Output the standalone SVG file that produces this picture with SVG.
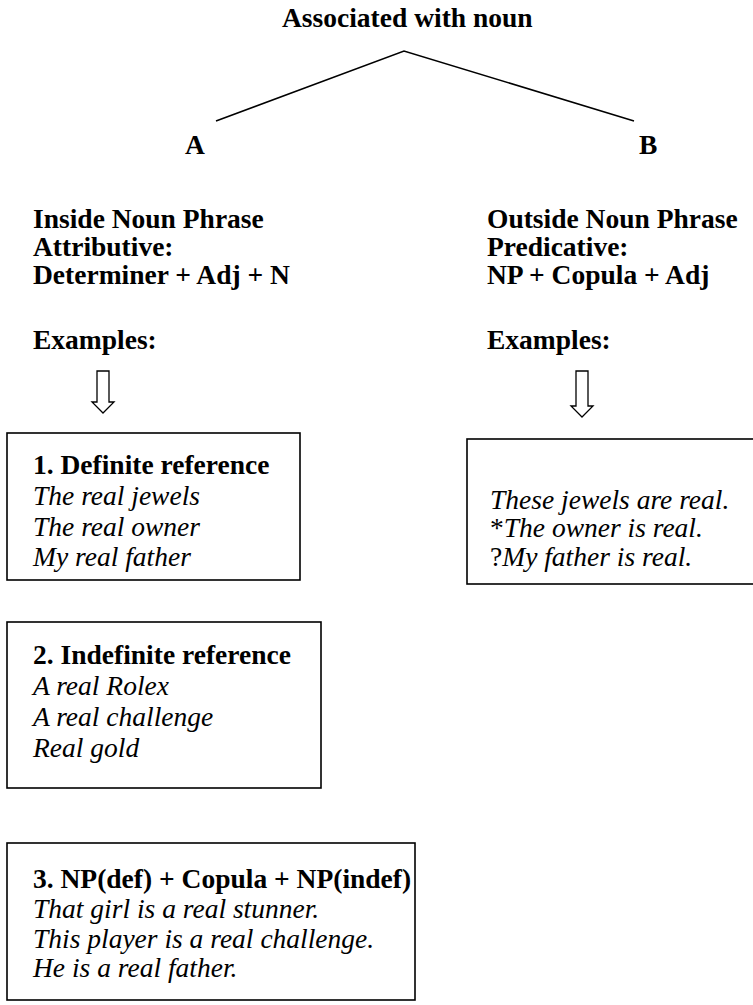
<svg xmlns="http://www.w3.org/2000/svg" width="753" height="1005" viewBox="0 0 753 1005">
<style>
text{font-family:"Liberation Serif","Times New Roman",serif;font-size:27.5px;fill:#000}
.b{font-weight:bold}
.i{font-style:italic}
.box{fill:#fff;stroke:#000;stroke-width:1.6}
.ln{fill:none;stroke:#000;stroke-width:1.6}
.arr{fill:#fff;stroke:#000;stroke-width:1.3;stroke-linejoin:miter}
</style>
<rect width="753" height="1005" fill="#fff"/>
<g id="connectors">
<polyline class="ln" points="216,121 404,51 634,121"/>
<path class="arr" d="M97,371 H109 V402 H114 L103,413 L92,402 H97 Z"/>
<path class="arr" d="M576,371 H588 V406 H593 L582,417 L571,406 H576 Z"/>
</g>
<g id="root"><text class="b" x="282" y="27">Associated with noun</text></g>
<g id="nodeA"><text class="b" x="185" y="154">A</text></g>
<g id="nodeB"><text class="b" x="639" y="154">B</text></g>
<g id="inside">
<text class="b" x="33" y="228">Inside Noun Phrase</text>
<text class="b" x="33" y="256">Attributive:</text>
<text class="b" x="33" y="284">Determiner + Adj + N</text>
<text class="b" x="33" y="349">Examples:</text>
</g>
<g id="outside">
<text class="b" x="487" y="228">Outside Noun Phrase</text>
<text class="b" x="487" y="256">Predicative:</text>
<text class="b" x="487" y="284">NP + Copula + Adj</text>
<text class="b" x="487" y="349">Examples:</text>
</g>
<g id="box1">
<rect class="box" x="7" y="433" width="293" height="147"/>
<text class="b" x="33" y="474">1. Definite reference</text>
<text class="i" x="33" y="505">The real jewels</text>
<text class="i" x="33" y="536">The real owner</text>
<text class="i" x="33" y="566">My real father</text>
</g>
<g id="boxB">
<rect class="box" x="467" y="439" width="295" height="145"/>
<text class="i" x="490" y="509">These jewels are real.</text>
<text x="490" y="537">*<tspan class="i">The owner is real.</tspan></text>
<text x="490" y="566">?<tspan class="i">My father is real.</tspan></text>
</g>
<g id="box2">
<rect class="box" x="7" y="622" width="314" height="166"/>
<text class="b" x="33" y="664">2. Indefinite reference</text>
<text class="i" x="33" y="695">A real Rolex</text>
<text class="i" x="33" y="726">A real challenge</text>
<text class="i" x="33" y="757">Real gold</text>
</g>
<g id="box3">
<rect class="box" x="7" y="843" width="408" height="157"/>
<text class="b" x="33" y="888">3. NP(def) + Copula + NP(indef)</text>
<text class="i" x="33" y="918">That girl is a real stunner.</text>
<text class="i" x="33" y="948">This player is a real challenge.</text>
<text class="i" x="33" y="977">He is a real father.</text>
</g>
</svg>
